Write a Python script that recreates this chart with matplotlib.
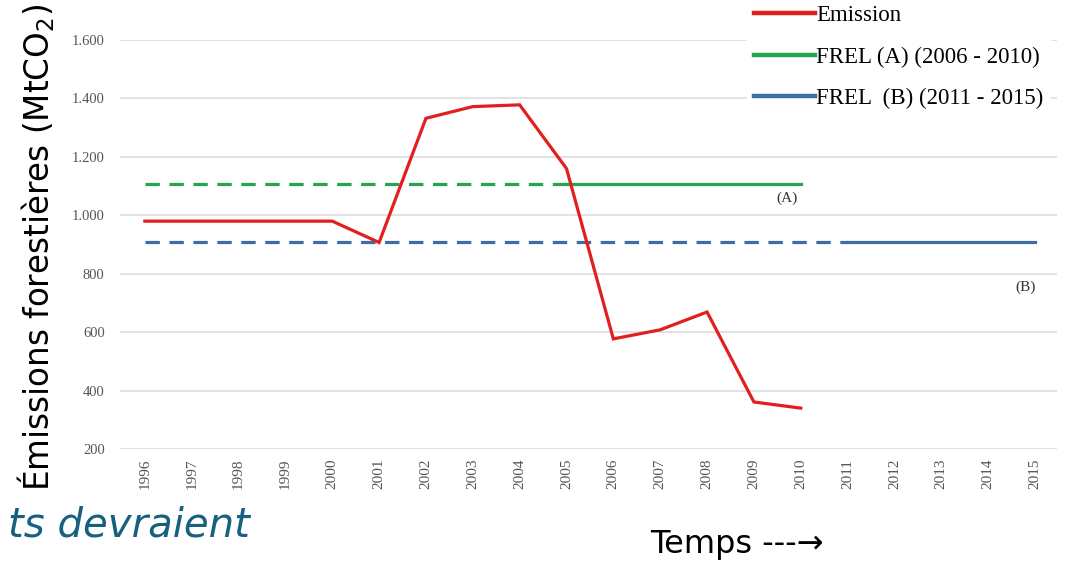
import numpy as np
import matplotlib
matplotlib.use("Agg")
from matplotlib import pyplot as plt

# data
years = list(range(1996, 2016))
emission_years = list(range(1996, 2011))
emission = [980, 980, 980, 980, 980, 907, 1332, 1372, 1378, 1160, 577, 608, 669, 361, 340]
frel_a = 1106   # mean 2006-2010 reference level
frel_b = 907    # 2011-2015 reference level
yticks = [200, 400, 600, 800, 1000, 1200, 1400, 1600]
ytick_labels = ["200", "400", "600", "800", "1.000", "1.200", "1.400", "1.600"]

red = "#e21f1f"
green = "#22a64e"
blue = "#3c6ea6"
serif = "Liberation Serif"

plt.rcParams["mathtext.default"] = "regular"
fig = plt.figure(figsize=(10.65, 5.61), dpi=100)
ax = fig.add_axes([0.1127, 0.1996, 0.8798, 0.7291])

ax.plot(emission_years, emission, color=red, lw=2.3, solid_joinstyle="miter", label="Emission", zorder=4)

# FREL A : dashed before 2005, solid 2005-2010
ax.plot([years[0], 2005], [frel_a, frel_a], color=green, lw=2.3, dashes=(4.5, 3), zorder=3)
ax.plot([2005, 2010], [frel_a, frel_a], color=green, lw=2.3, label="FREL (A) (2006 - 2010)", zorder=3)
# FREL B : dashed before 2011, solid 2011-2015
ax.plot([years[0], 2011], [frel_b, frel_b], color=blue, lw=2.3, dashes=(4.5, 3), zorder=3)
ax.plot([2011, years[-1]], [frel_b, frel_b], color=blue, lw=2.3, label="FREL  (B) (2011 - 2015)", zorder=3)

ax.text(2009.7, 1060, "(A)", fontsize=11, family=serif, color="#333333", ha="center", va="center")
ax.text(2014.8, 752, "(B)", fontsize=11, family=serif, color="#333333", ha="center", va="center")

ax.set_xlim(1995.47, 2015.47)
ax.set_ylim(200, 1600)
ax.set_xticks(years)
ax.set_xticklabels([str(y) for y in years], rotation=90, fontsize=11, family=serif, color="#555555")
ax.set_yticks(yticks)
ax.set_yticklabels(ytick_labels, fontsize=10.5, family=serif, color="#555555")
ax.tick_params(axis="both", length=0)
ax.tick_params(axis="y", pad=11)
ax.tick_params(axis="x", pad=7)
ax.grid(axis="y", color="#dddddd", lw=1.2)
ax.set_axisbelow(True)
for s in ax.spines.values():
    s.set_visible(False)

fig.text(0.034, 1 - 247 / 561, "Émissions forestières (MtCO$_2$)", rotation=90, fontsize=23.5,
         ha="center", va="center", color="black")

leg = fig.legend(loc="upper right", bbox_to_anchor=(0.997, 1.024), prop={"family": serif, "size": 16.5},
                 frameon=True, framealpha=1, edgecolor="white", handlelength=2.65,
                 handletextpad=0.05, labelspacing=0.9, borderpad=0.3)
for line in leg.get_lines():
    line.set_linewidth(3.2)

fig.text(250 / 1065, 1 - 525 / 561, "ts devraient", fontsize=29, style="italic", color="#17607f",
         ha="right", va="center")
fig.text(650 / 1065, 1 - 545 / 561, "Temps ---→", fontsize=23, color="black", ha="left", va="center")

fig.savefig("out.png", dpi=100)
